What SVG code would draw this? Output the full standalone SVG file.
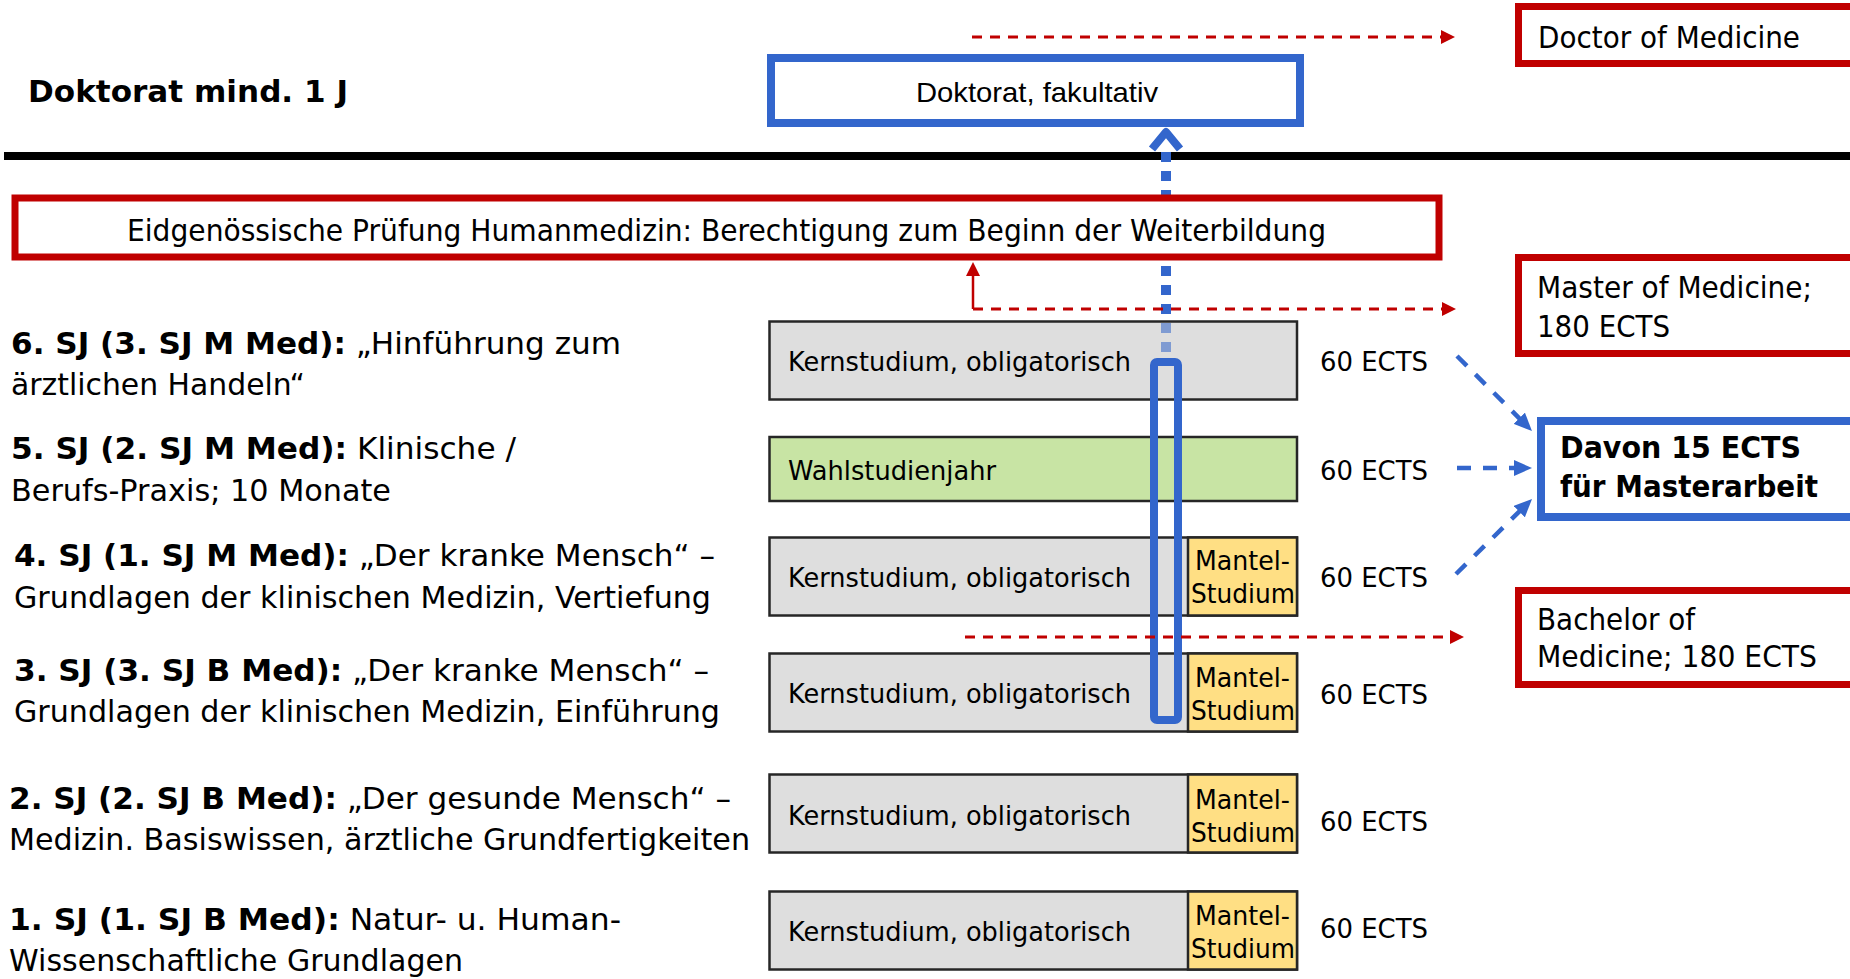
<svg xmlns="http://www.w3.org/2000/svg" width="1850" height="979" viewBox="0 0 1850 979">
  <style>
    .sans { font-family: "DejaVu Sans", Verdana, sans-serif; fill: #000; }
    .arial { font-family: "Liberation Sans", Arial, sans-serif; fill: #000; }
    .lbl { font-size: 30px; }
    .b { font-weight: bold; }
    .box-txt { font-size: 31px; }
    .bar-txt { font-size: 27px; }
    .bar-k { fill: #DEDEDE; stroke: #262626; stroke-width: 2.5; }
    .bar-w { fill: #C8E4A4; stroke: #262626; stroke-width: 2.5; }
    .bar-m { fill: #FFDF84; stroke: #262626; stroke-width: 2.5; }
    .red-box { fill: #FFFFFF; stroke: #C00000; stroke-width: 7; }
    .blue-box { fill: #FFFFFF; stroke: #3366CC; stroke-width: 8; }
    .red-dash { fill: none; stroke: #C00000; stroke-width: 3; stroke-dasharray: 10 8; }
    .blue-dash { fill: none; stroke: #3366CC; stroke-width: 4.5; stroke-dasharray: 14 12; }
  </style>
  <defs>
    <marker id="redHead" markerUnits="userSpaceOnUse" markerWidth="14" markerHeight="14" refX="4" refY="7" orient="auto">
      <path d="M0,0 L14,7 L0,14 Z" fill="#C00000"/>
    </marker>
    <marker id="blueHead" markerUnits="userSpaceOnUse" markerWidth="18" markerHeight="16" refX="6" refY="8" orient="auto">
      <path d="M0,0 L18,8 L0,16 Z" fill="#3366CC"/>
    </marker>
  </defs>

  <rect width="1850" height="979" fill="#FFFFFF"/>

  <!-- divider between doctorate and study years -->
  <line x1="4" y1="156" x2="1850" y2="156" stroke="#000" stroke-width="8"/>

  <!-- year labels on the left -->
  <g id="label-doktorat">
    <text class="sans b" x="28" y="102" font-size="31" textLength="320" lengthAdjust="spacingAndGlyphs">Doktorat mind. 1 J</text>
  </g>
  <g id="label-sj6" class="sans lbl">
    <text x="11" y="354" textLength="610" lengthAdjust="spacingAndGlyphs"><tspan class="b">6. SJ (3. SJ M Med):</tspan> „Hinführung zum</text>
    <text x="11" y="395" textLength="294" lengthAdjust="spacingAndGlyphs">ärztlichen Handeln“</text>
  </g>
  <g id="label-sj5" class="sans lbl">
    <text x="11" y="459" textLength="505" lengthAdjust="spacingAndGlyphs"><tspan class="b">5. SJ (2. SJ M Med):</tspan> Klinische /</text>
    <text x="11" y="501" textLength="380" lengthAdjust="spacingAndGlyphs">Berufs-Praxis; 10 Monate</text>
  </g>
  <g id="label-sj4" class="sans lbl">
    <text x="14" y="566" textLength="701" lengthAdjust="spacingAndGlyphs"><tspan class="b">4. SJ (1. SJ M Med):</tspan> „Der kranke Mensch“ –</text>
    <text x="14" y="608" textLength="697" lengthAdjust="spacingAndGlyphs">Grundlagen der klinischen Medizin, Vertiefung</text>
  </g>
  <g id="label-sj3" class="sans lbl">
    <text x="14" y="681" textLength="695" lengthAdjust="spacingAndGlyphs"><tspan class="b">3. SJ (3. SJ B Med):</tspan> „Der kranke Mensch“ –</text>
    <text x="14" y="722" textLength="706" lengthAdjust="spacingAndGlyphs">Grundlagen der klinischen Medizin, Einführung</text>
  </g>
  <g id="label-sj2" class="sans lbl">
    <text x="9" y="809" textLength="722" lengthAdjust="spacingAndGlyphs"><tspan class="b">2. SJ (2. SJ B Med):</tspan> „Der gesunde Mensch“ –</text>
    <text x="9" y="850" textLength="741" lengthAdjust="spacingAndGlyphs">Medizin. Basiswissen, ärztliche Grundfertigkeiten</text>
  </g>
  <g id="label-sj1" class="sans lbl">
    <text x="9" y="930" textLength="612" lengthAdjust="spacingAndGlyphs"><tspan class="b">1. SJ (1. SJ B Med):</tspan> Natur- u. Human-</text>
    <text x="9" y="971" textLength="454" lengthAdjust="spacingAndGlyphs">Wissenschaftliche Grundlagen</text>
  </g>

  <!-- study-year bars -->
  <g id="bar-sj6">
    <rect class="bar-k" x="769.5" y="321.5" width="527.5" height="78"/>
    <text class="sans bar-txt" x="788" y="371" textLength="343" lengthAdjust="spacingAndGlyphs">Kernstudium, obligatorisch</text>
    <text class="sans bar-txt" x="1320" y="371" textLength="108" lengthAdjust="spacingAndGlyphs">60 ECTS</text>
  </g>
  <g id="bar-sj5">
    <rect class="bar-w" x="769.5" y="437" width="527.5" height="64"/>
    <text class="sans bar-txt" x="788" y="480" textLength="208" lengthAdjust="spacingAndGlyphs">Wahlstudienjahr</text>
    <text class="sans bar-txt" x="1320" y="480" textLength="108" lengthAdjust="spacingAndGlyphs">60 ECTS</text>
  </g>
  <g id="bar-sj4">
    <rect class="bar-k" x="769.5" y="537.5" width="527.5" height="78"/>
    <rect class="bar-m" x="1188" y="537.5" width="109" height="78"/>
    <text class="sans bar-txt" x="788" y="587" textLength="343" lengthAdjust="spacingAndGlyphs">Kernstudium, obligatorisch</text>
    <text class="sans bar-txt" x="1195" y="570" textLength="95" lengthAdjust="spacingAndGlyphs">Mantel-</text>
    <text class="sans bar-txt" x="1191" y="603" textLength="104" lengthAdjust="spacingAndGlyphs">Studium</text>
    <text class="sans bar-txt" x="1320" y="587" textLength="108" lengthAdjust="spacingAndGlyphs">60 ECTS</text>
  </g>
  <g id="bar-sj3">
    <rect class="bar-k" x="769.5" y="653.5" width="527.5" height="78"/>
    <rect class="bar-m" x="1188" y="653.5" width="109" height="78"/>
    <text class="sans bar-txt" x="788" y="703" textLength="343" lengthAdjust="spacingAndGlyphs">Kernstudium, obligatorisch</text>
    <text class="sans bar-txt" x="1195" y="687" textLength="95" lengthAdjust="spacingAndGlyphs">Mantel-</text>
    <text class="sans bar-txt" x="1191" y="720" textLength="104" lengthAdjust="spacingAndGlyphs">Studium</text>
    <text class="sans bar-txt" x="1320" y="704" textLength="108" lengthAdjust="spacingAndGlyphs">60 ECTS</text>
  </g>
  <g id="bar-sj2">
    <rect class="bar-k" x="769.5" y="774.5" width="527.5" height="78"/>
    <rect class="bar-m" x="1188" y="774.5" width="109" height="78"/>
    <text class="sans bar-txt" x="788" y="825" textLength="343" lengthAdjust="spacingAndGlyphs">Kernstudium, obligatorisch</text>
    <text class="sans bar-txt" x="1195" y="809" textLength="95" lengthAdjust="spacingAndGlyphs">Mantel-</text>
    <text class="sans bar-txt" x="1191" y="842" textLength="104" lengthAdjust="spacingAndGlyphs">Studium</text>
    <text class="sans bar-txt" x="1320" y="831" textLength="108" lengthAdjust="spacingAndGlyphs">60 ECTS</text>
  </g>
  <g id="bar-sj1">
    <rect class="bar-k" x="769.5" y="891.5" width="527.5" height="78"/>
    <rect class="bar-m" x="1188" y="891.5" width="109" height="78"/>
    <text class="sans bar-txt" x="788" y="941" textLength="343" lengthAdjust="spacingAndGlyphs">Kernstudium, obligatorisch</text>
    <text class="sans bar-txt" x="1195" y="925" textLength="95" lengthAdjust="spacingAndGlyphs">Mantel-</text>
    <text class="sans bar-txt" x="1191" y="958" textLength="104" lengthAdjust="spacingAndGlyphs">Studium</text>
    <text class="sans bar-txt" x="1320" y="938" textLength="108" lengthAdjust="spacingAndGlyphs">60 ECTS</text>
  </g>

  <!-- connectors -->
  <g id="connectors">
    <!-- Masterarbeit span across years 3 to 6 and path to the doctorate -->
    <path d="M1166,152 V321" fill="none" stroke="#3366CC" stroke-width="10" stroke-dasharray="10 9"/>
    <path d="M1166,321 V360" fill="none" stroke="#7F9BD2" stroke-width="10" stroke-dasharray="10 9" stroke-dashoffset="17"/>
    <path d="M1152,149 L1166,132 L1180,149" fill="none" stroke="#3366CC" stroke-width="8" stroke-linejoin="round"/>
    <rect x="1154" y="362" width="24" height="358" rx="3" fill="none" stroke="#3366CC" stroke-width="8"/>
    <!-- degree arrows -->
    <path class="red-dash" d="M972,37 H1445" marker-end="url(#redHead)"/>
    <path class="red-dash" d="M973,309 H1446" marker-end="url(#redHead)"/>
    <path d="M973,309 V272" fill="none" stroke="#C00000" stroke-width="2.5" marker-end="url(#redHead)"/>
    <path class="red-dash" d="M965,637 H1454" marker-end="url(#redHead)"/>
    <!-- ECTS towards the Masterarbeit -->
    <path class="blue-dash" d="M1457,356 L1523.5,422.5" marker-end="url(#blueHead)"/>
    <path class="blue-dash" d="M1457,468 L1520,468" marker-end="url(#blueHead)"/>
    <path class="blue-dash" d="M1456,574 L1523.5,507.4" marker-end="url(#blueHead)"/>
  </g>

  <!-- boxes -->
  <g id="box-eidg">
    <rect class="red-box" x="15" y="198" width="1424" height="59" stroke-width="8"/>
    <text class="sans box-txt" x="127" y="241" textLength="1199" lengthAdjust="spacingAndGlyphs">Eidgenössische Prüfung Humanmedizin: Berechtigung zum Beginn der Weiterbildung</text>
  </g>
  <g id="box-doktorat">
    <rect class="blue-box" x="771" y="58" width="529" height="65"/>
    <text class="arial" x="916" y="102" font-size="28" textLength="242" lengthAdjust="spacingAndGlyphs">Doktorat, fakultativ</text>
  </g>
  <g id="box-doctor">
    <rect class="red-box" x="1518.5" y="6.5" width="1328" height="57"/>
    <text class="sans box-txt" x="1538" y="48" textLength="262" lengthAdjust="spacingAndGlyphs">Doctor of Medicine</text>
  </g>
  <g id="box-master">
    <rect class="red-box" x="1518.5" y="257.5" width="1328" height="96"/>
    <text class="sans box-txt" x="1537" y="298" textLength="275" lengthAdjust="spacingAndGlyphs">Master of Medicine;</text>
    <text class="sans box-txt" x="1537" y="337" textLength="133" lengthAdjust="spacingAndGlyphs">180 ECTS</text>
  </g>
  <g id="box-masterarbeit">
    <rect class="blue-box" x="1541" y="421" width="1305" height="96"/>
    <text class="sans b" x="1560" y="458" font-size="30" textLength="241" lengthAdjust="spacingAndGlyphs">Davon 15 ECTS</text>
    <text class="sans b" x="1560" y="497" font-size="30" textLength="258" lengthAdjust="spacingAndGlyphs">für Masterarbeit</text>
  </g>
  <g id="box-bachelor">
    <rect class="red-box" x="1518.5" y="590.5" width="1328" height="94"/>
    <text class="sans box-txt" x="1537" y="630" textLength="158" lengthAdjust="spacingAndGlyphs">Bachelor of</text>
    <text class="sans box-txt" x="1537" y="667" textLength="280" lengthAdjust="spacingAndGlyphs">Medicine; 180 ECTS</text>
  </g>
</svg>
